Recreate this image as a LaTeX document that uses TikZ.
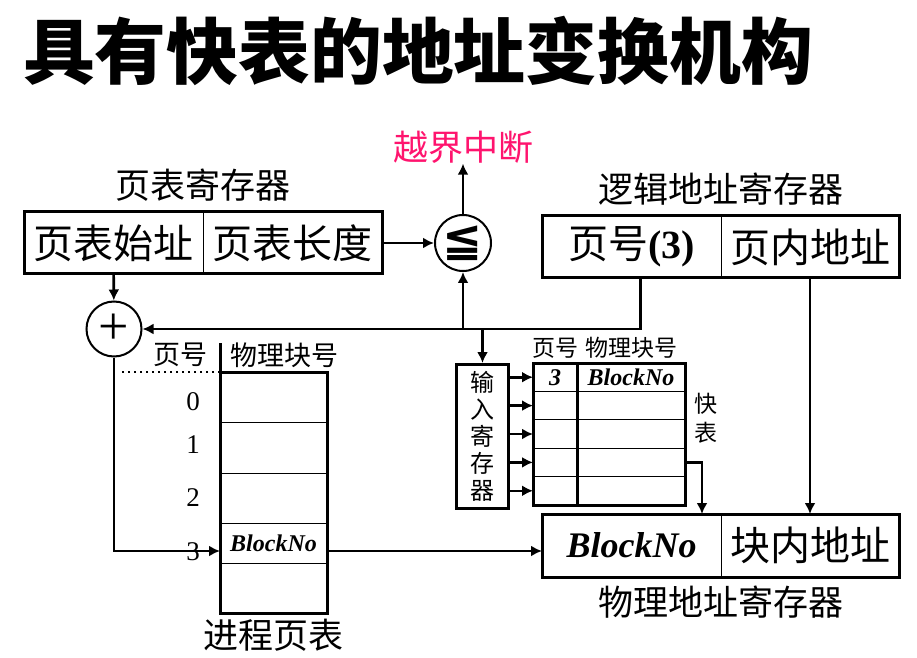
\documentclass[tikz,border=0pt]{standalone}
\usepackage{amssymb}
\usepackage{fontspec}
\setmainfont{Liberation Serif}
\newfontfamily\cjk{Noto Sans CJK SC}
\newfontfamily\symbolfont{DejaVu Sans}
\usetikzlibrary{positioning,arrows.meta,calc}
\definecolor{alarm}{RGB}{255,20,110}
\tikzset{
    headline/.style={
        inner sep=0pt,
        font=\cjk\bfseries\fontsize{35.9}{40}\selectfont
    },
    regcell/.style={
        rectangle,
        draw,
        line width=0.5pt,
        inner sep=0pt,
        outer sep=0pt,
        minimum height=31pt,
        font=\cjk\fontsize{20}{24}\selectfont
    },
    regname/.style={
        inner sep=0pt,
        font=\cjk\fontsize{17.5}{20}\selectfont
    },
    smallname/.style={
        inner sep=0pt,
        font=\cjk\fontsize{13.5}{16}\selectfont
    },
    tinyname/.style={
        inner sep=0pt,
        font=\cjk\fontsize{11.5}{14.5}\selectfont
    },
    digit/.style={
        inner sep=0pt,
        font=\fontsize{13.5}{16}\selectfont
    },
    slot/.style={
        rectangle,
        draw,
        line width=0.5pt,
        inner sep=0pt,
        outer sep=0pt,
        minimum width=53.5pt,
        font=\bfseries\itshape\fontsize{12}{14}\selectfont
    },
    ftkey/.style={
        slot,
        minimum width=22pt,
        minimum height=14.2pt
    },
    ftval/.style={
        slot,
        minimum width=54pt,
        minimum height=14.2pt
    },
    ring/.style={
        circle,
        draw,
        line width=1pt,
        inner sep=0pt
    },
    rim/.style={
        line width=1.5pt
    },
    arrow/.style={
        -{Latex[length=5.5pt,width=5.5pt]},
        line width=1.3pt
    }
}

\begin{document}
\begin{tikzpicture}[x=0.5pt, y=-0.5pt]
    \useasboundingbox (0,0) rectangle (917,658);

    % Title
    \node (title) [headline] at (418,51) {具有快表的地址变换机构};

    % Page table register
    \node (ptstart) [regcell, minimum width=89.5pt, anchor=north west] at (24,212) {页表始址};
    \node (ptlen) [regcell, minimum width=89.5pt, right=0pt of ptstart] {页表长度};
    \draw[rim] (ptstart.north west) rectangle (ptlen.south east);
    \node (ptregname) [regname, above=5pt of ptstart.north east] {页表寄存器};

    % Compare and interrupt
    \node (cmp) [ring, minimum size=28pt, font=\symbolfont\bfseries\fontsize{24}{24}\selectfont] at (463,243) {≦};
    \node (oob) [regname, text=alarm] at (463,147) {越界中断};

    % Logical address register
    \node (pageno) [regcell, minimum width=89.5pt, anchor=north west] at (542,216) {页号{\rmfamily\bfseries(3)}};
    \node (offset) [regcell, minimum width=89pt, right=0pt of pageno] {页内地址};
    \draw[rim] (pageno.north west) rectangle (offset.south east);
    \node (logicname) [regname, above=5pt of pageno.north east] {逻辑地址寄存器};

    % Adder
    \node (plus) [ring, minimum size=27.5pt, font=\fontsize{27}{27}\selectfont] at (114,329) {+};

    % Process page table
    \node (pt0) [slot, minimum height=25pt, anchor=north west] at (220,372) {};
    \node (pt1) [slot, minimum height=25.5pt, below=0pt of pt0] {};
    \node (pt2) [slot, minimum height=25pt, below=0pt of pt1] {};
    \node (pt3) [slot, minimum height=20pt, below=0pt of pt2] {BlockNo};
    \node (pt4) [slot, minimum height=25pt, below=0pt of pt3] {};
    \draw[rim] (pt0.north west) rectangle (pt4.south east);
    \node (pthead1) [smallname] at (180,355) {页号};
    \node (pthead2) [smallname] at (284,355) {物理块号};
    \draw[rim] (pt0.north west) -- (pt0.north west |- pthead1.north);
    \draw[dotted, line width=1pt] (pt0.north west) -- ++(-100,0);
    \node (idx0) [digit] at (193,402) {0};
    \node (idx1) [digit] at (193,445) {1};
    \node (idx2) [digit] at (193,498) {2};
    \node (idx3) [digit] at (193,552) {3};
    \node (ptname) [regname, below=3pt of pt4] {进程页表};

    % Input register
    \node (inreg) [rectangle, draw, rim, minimum width=26pt, minimum height=72pt, inner sep=0pt,
        align=center, anchor=north west, font=\cjk\fontsize{12}{13.5}\selectfont] at (455,363) {输\\入\\寄\\存\\器};

    % Fast table
    \node (k1a) [ftkey, anchor=north west] at (533,363) {3};
    \node (k1b) [ftval, right=0pt of k1a] {BlockNo};
    \node (k2a) [ftkey, below=0pt of k1a] {};
    \node (k2b) [ftval, right=0pt of k2a] {};
    \node (k3a) [ftkey, below=0pt of k2a] {};
    \node (k3b) [ftval, right=0pt of k3a] {};
    \node (k4a) [ftkey, below=0pt of k3a] {};
    \node (k4b) [ftval, right=0pt of k4a] {};
    \node (k5a) [ftkey, below=0pt of k4a] {};
    \node (k5b) [ftval, right=0pt of k5a] {};
    \draw[rim] (k1a.north west) rectangle (k5b.south east);
    \draw[rim] (k1a.north east) -- (k5a.south east);
    \node (fthead1) [tinyname, above=2pt of k1a] {页号};
    \node (fthead2) [tinyname, above=2pt of k1b] {物理块号};
    \node (ftname) [tinyname, align=center] at (706,418) {快\\表};

    % Physical address register
    \node (blk) [regcell, minimum width=89.5pt, minimum height=31.5pt, anchor=north west,
        font=\rmfamily\bfseries\itshape\fontsize{18}{20}\selectfont] at (542,514) {BlockNo};
    \node (blkoff) [regcell, minimum width=89pt, minimum height=31.5pt, right=0pt of blk] {块内地址};
    \draw[rim] (blk.north west) rectangle (blkoff.south east);
    \node (physname) [regname, below=4pt of blk.south east] {物理地址寄存器};

    % Arrows
    \coordinate (tap) at ([xshift=4.5pt]pageno.south);
    \draw[arrow] (ptstart) -- (plus);
    \draw[arrow] (ptlen) -- (cmp);
    \draw[arrow] (cmp) -- (oob);
    \draw[arrow] (tap) |- (plus);
    \draw[arrow] (cmp |- plus) -- (cmp);
    \draw[arrow] (inreg |- plus) -- (inreg);
    \draw[arrow] (inreg.east |- k1a) -- (k1a);
    \draw[arrow] (inreg.east |- k2a) -- (k2a);
    \draw[arrow] (inreg.east |- k3a) -- (k3a);
    \draw[arrow] (inreg.east |- k4a) -- (k4a);
    \draw[arrow] (inreg.east |- k5a) -- (k5a);
    \draw[arrow] (k4b.east) -| ([xshift=-9.5pt]blk.north east);
    \draw[arrow] (offset) -- (blkoff);
    \draw[arrow] (plus) |- ([yshift=-4pt]pt3.west);
    \draw[arrow] ([yshift=-4pt]pt3.east) -- ([yshift=-4pt]pt3.east -| blk.west);
\end{tikzpicture}
\end{document}
